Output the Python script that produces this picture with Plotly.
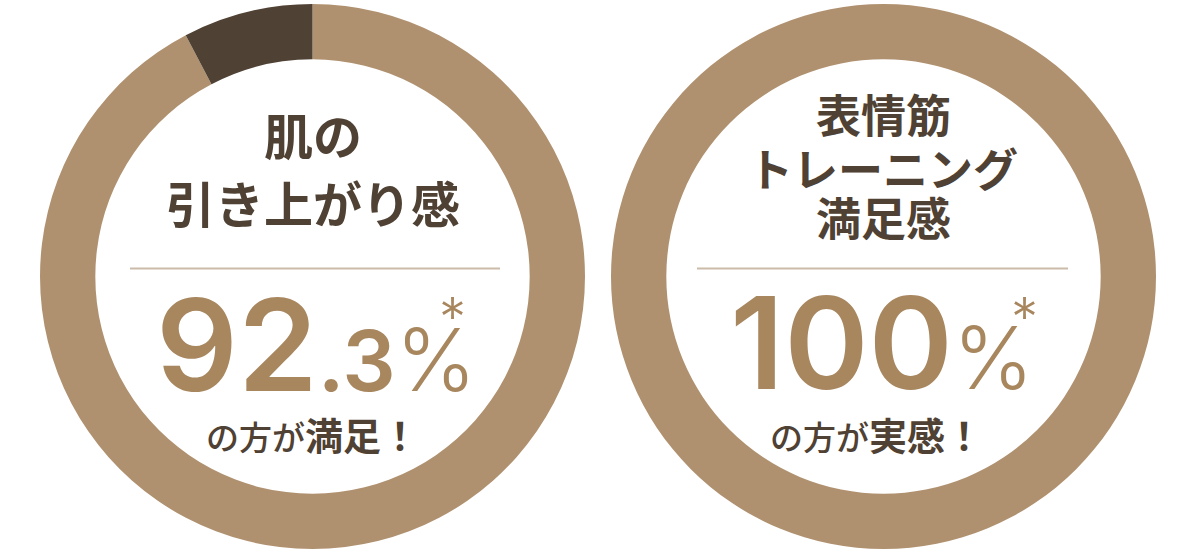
import plotly.graph_objects as go

# data
labels = ["満足", "不満"]
left_values = [92.3, 7.7]
right_values = [100.0, 0.0]
left_title = ["肌の", "引き上がり感"]
right_title = ["表情筋", "トレーニング", "満足感"]
left_number = ("92", ".3", "%")
right_number = ("100", "", "%")
left_sub = ("の方が", "満足！")
right_sub = ("の方が", "実感！")

W, H = 1200, 560
TAN = "#b0916f"
DARK = "#4f4133"
NUM = "#a8875f"
LINE = "#cbbca9"
JP = "Noto Sans CJK JP"
NUMFONT = "Inter"


def px(x, y):
    return x / W, 1 - y / H


fig = go.Figure()

for values, (x0, x1) in [(left_values, (40, 585)), (right_values, (611, 1156))]:
    fx0, fy1 = px(x0, 4)
    fx1, fy0 = px(x1, 549)
    fig.add_trace(go.Pie(
        labels=labels,
        values=values,
        hole=0.797,
        sort=False,
        direction="clockwise",
        rotation=0,
        marker=dict(colors=[TAN, DARK], line=dict(width=0)),
        textinfo="none",
        hoverinfo="label+percent",
        showlegend=False,
        domain=dict(x=[fx0, fx1], y=[fy0, fy1]),
    ))

annotations = []


def add_text(text, x, y, size, color, weight="bold", family=JP, xanchor="center"):
    ax, ay = px(x, y)
    annotations.append(dict(
        text=text, x=ax, y=ay, xref="paper", yref="paper",
        xanchor=xanchor, yanchor="middle", showarrow=False,
        font=dict(family=family, size=size, color=color, weight=weight),
    ))


# titles
for line, y in zip(left_title, [133, 201]):
    add_text(line, 313, y, 49, DARK)
for line, y in zip(right_title, [114, 167, 217]):
    add_text(line, 883, y, 45, DARK)


# big numbers
def number_text(big, small, pct):
    s = big
    if small:
        s += f'<span style="font-size:84px">{small}</span>'
    s += f'<span style="font-size:86px;font-weight:300">{pct}</span>'
    return s


add_text(number_text(*left_number), 316, 344, 128, NUM, weight=600, family=NUMFONT)
add_text(number_text(*right_number), 882, 342, 128, NUM, weight=600, family=NUMFONT)

# asterisks
add_text("*", 452, 316, 54, NUM, weight=300, family=NUMFONT)
add_text("*", 1024, 316, 54, NUM, weight=300, family=NUMFONT)


# sub lines
def sub_text(a, b):
    return f'<span style="font-size:33px;font-weight:500">{a}</span><b>{b}</b>'


add_text(sub_text(*left_sub), 312, 433, 38, DARK, weight="bold")
add_text(sub_text(*right_sub), 876, 433, 38, DARK, weight="bold")

shapes = []
for x0, x1 in [(130, 500), (697, 1068)]:
    sx0, sy = px(x0, 268.5)
    sx1, _ = px(x1, 268.5)
    shapes.append(dict(type="line", xref="paper", yref="paper",
                       x0=sx0, x1=sx1, y0=sy, y1=sy,
                       line=dict(color=LINE, width=2)))

fig.update_layout(
    width=W, height=H,
    margin=dict(l=0, r=0, t=0, b=0),
    paper_bgcolor="white",
    plot_bgcolor="white",
    annotations=annotations,
    shapes=shapes,
    showlegend=False,
)

# drop the default page margin so the figure sits at the window's corner
fig.write_html("out.html", config={"displayModeBar": False},
               post_script="document.body.style.margin='0';")
